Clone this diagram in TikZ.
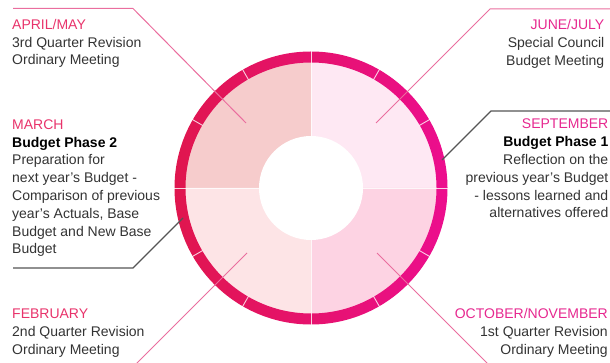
\documentclass[tikz,border=0pt]{standalone}
\usepackage{fontspec}
\setmainfont{Liberation Sans}
\definecolor{qtl}{HTML}{F6CCCC}
\definecolor{qtr}{HTML}{FEE8F3}
\definecolor{qbl}{HTML}{FDE4E6}
\definecolor{qbr}{HTML}{FDD3E3}
\definecolor{ringleft}{HTML}{E0164E}
\definecolor{ringright}{HTML}{EC0E8E}
\definecolor{labred}{HTML}{E8336B}
\definecolor{labmag}{HTML}{E6288F}
\definecolor{bodygray}{HTML}{333333}
\definecolor{pinkline}{HTML}{EA6E9E}
\definecolor{grayline}{HTML}{555555}
\begin{document}
\begin{tikzpicture}[x=1pt,y=-1pt,
  txt/.style={font=\fontsize{14}{17.8}\selectfont, inner sep=0pt, text=bodygray},
  lblock/.style={txt, align=left, anchor=base west},
  rblock/.style={txt, align=right, anchor=base east},
  pinkrule/.style={draw=pinkline, line width=1pt},
  grayrule/.style={draw=grayline, line width=1.2pt},
  gap/.style={draw=white, line width=0.9pt, opacity=0.8},
  divider/.style={draw=white, line width=0.9pt, opacity=0.8}]
\useasboundingbox (0,0) rectangle (610,363);
\clip (0,0) rectangle (610,363);
\coordinate (c) at (311,188);
% quadrants (angles negated because the y axis points down)
\fill[qtl] (c) -- ++(-126,0) arc[start angle=-180, end angle=-90, radius=126] -- cycle;
\fill[qtr] (c) -- ++(0,-126) arc[start angle=-90, end angle=0, radius=126] -- cycle;
\fill[qbl] (c) -- ++(-126,0) arc[start angle=180, end angle=90, radius=126] -- cycle;
\fill[qbr] (c) -- ++(126,0) arc[start angle=0, end angle=90, radius=126] -- cycle;
% ring
\shade[even odd rule, left color=ringleft, right color=ringright]
  (c) circle[radius=136.5] (c) circle[radius=125.5];
% ring gaps
\foreach \a in {30,60,120,150,210,240,300,330}
  \draw[gap] (c) ++(\a:125) -- ++(\a:12.5);
% dividers
\draw[divider] (311,51) -- (311,325);
\draw[divider] (174,188) -- (448,188);
% inner disk
\fill[white] (c) circle[radius=52];

% connectors
\coordinate (aprA) at (13,8.5);
\coordinate (aprB) at (133,8.5);
\coordinate (aprC) at (246,123);
\draw[pinkrule] (aprA) -- (aprB) -- (aprC);
\coordinate (junA) at (610,9);
\coordinate (junB) at (490,9);
\coordinate (junC) at (376,123);
\draw[pinkrule] (junA) -- (junB) -- (junC);
\coordinate (sepA) at (610,111);
\coordinate (sepB) at (491,111);
\coordinate (sepC) at (442,160);
\draw[grayrule] (sepA) -- (sepB) -- (sepC);
\coordinate (marA) at (13,268);
\coordinate (marB) at (133,268);
\coordinate (marC) at (183,218);
\draw[grayrule] (marA) -- (marB) -- (marC);
\coordinate (febA) at (247,253);
\coordinate (febB) at (132,368);
\draw[pinkrule] (febA) -- (febB);
\coordinate (octA) at (377,253);
\coordinate (octB) at (492,368);
\draw[pinkrule] (octA) -- (octB);

% texts (base anchor = baseline of the last line)
\node[lblock] (apr) at (12,65) {\textcolor{labred}{APRIL/MAY}\\3rd Quarter Revision\\Ordinary Meeting};
\node[rblock] (jun) at (604.5,65.5) {\textcolor{labmag}{JUNE/JULY}\\Special Council\\Budget Meeting};
\node[rblock] (sep) at (608.5,218) {\textcolor{labmag}{SEPTEMBER}\\\textcolor{black}{\bfseries Budget Phase 1}\\Reflection on the\\previous year’s Budget\\- lessons learned and\\alternatives offered};
\node[lblock] (mar) at (12,254) {\textcolor{labred}{MARCH}\\\textcolor{black}{\bfseries Budget Phase 2}\\Preparation for\\next year’s Budget -\\Comparison of previous\\year’s Actuals, Base\\Budget and New Base\\Budget};
\node[lblock] (feb) at (12,354.5) {\textcolor{labred}{FEBRUARY}\\2nd Quarter Revision\\Ordinary Meeting};
\node[rblock] (oct) at (608,354.5) {\textcolor{labmag}{OCTOBER/NOVEMBER}\\1st Quarter Revision\\Ordinary Meeting};
\end{tikzpicture}
\end{document}
